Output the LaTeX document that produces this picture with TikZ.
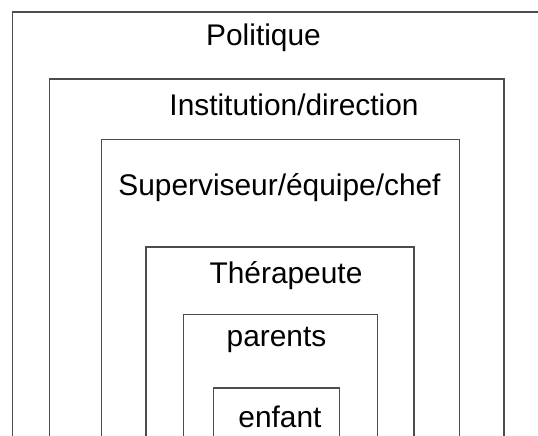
\documentclass[tikz,border=0pt]{standalone}
\usepackage{fontspec}
\setmainfont{Liberation Sans}
\usepackage{tikz}
\tikzset{
	layer/.style={draw=black!70, line width=.6pt},
	tag/.style={anchor=base, inner sep=0pt, font=\fontsize{17}{20}\selectfont},
}

\begin{document}
\begin{tikzpicture}
\useasboundingbox (0,0) rectangle (10.76,8.72);
\clip (0,0) rectangle (10.76,8.72);

% the boxes
\draw[layer] (0.25,-1) rectangle (11.5,8.48);
\draw[layer] (0.99,-1) rectangle (10.08,7.14);
\draw[layer] (2.03,-1) rectangle (9.19,5.93);
\draw[layer] (2.92,-1) rectangle (8.28,3.78);
\draw[layer] (3.67,-1) rectangle (7.55,2.43);
\draw[layer] (4.27,-1) rectangle (6.79,0.96);

% the names
\node[tag] at (5.27,7.80) (pol) {Politique};
\node[tag] at (5.88,6.40) (inst) {Institution/direction};
\node[tag] at (5.59,4.80) (sup) {Superviseur/équipe/chef};
\node[tag] at (5.72,3.05) (ther) {Thérapeute};
\node[tag] at (5.53,1.79) (par) {parents};
\node[tag] at (5.60,0.16) (enf) {enfant};
\end{tikzpicture}
\end{document}
